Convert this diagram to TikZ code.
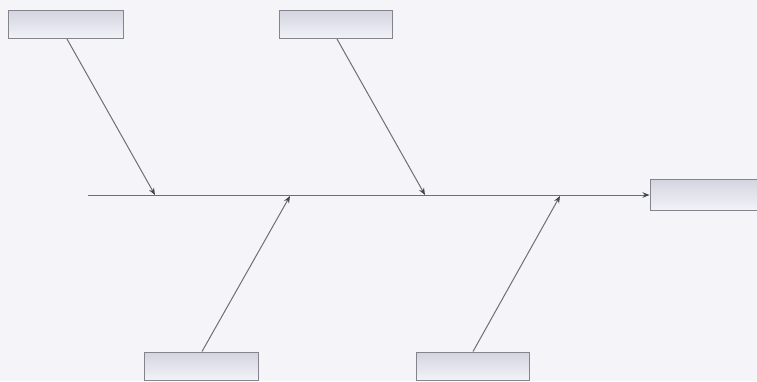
\documentclass[tikz,border=0pt]{standalone}
\usetikzlibrary{arrows.meta}
\definecolor{bg}{HTML}{F5F5F9}
\definecolor{ln}{HTML}{6E6E76}
\definecolor{tip}{HTML}{45454C}
\definecolor{bx}{HTML}{84848C}
\definecolor{boxtop}{HTML}{D4D4E0}
\definecolor{boxbot}{HTML}{F2F2F8}
\tikzset{
  fishbox/.style={draw=bx, line width=1pt, top color=boxtop, bottom color=boxbot,
    minimum height=28pt, inner sep=0pt, anchor=center},
  bone/.style={draw=ln, line width=1pt, -{Stealth[length=7pt,width=5.5pt,color=tip]}},
}
\begin{document}
\begin{tikzpicture}[x=1pt,y=-1pt]
\useasboundingbox (0,0) rectangle (757,381);
\fill[bg] (0,0) rectangle (757,381);
\clip (0,0) rectangle (757,381);
\node[fishbox, minimum width=115pt] (t1) at (65.5,24.5) {};
\node[fishbox, minimum width=113pt] (t2) at (335.5,24.5) {};
\node[fishbox, minimum width=116pt, minimum height=31pt] (head) at (708,194.5) {};
\node[fishbox, minimum width=114pt] (b1) at (201,366) {};
\node[fishbox, minimum width=113pt] (b2) at (472.5,366) {};
\coordinate (tail) at (88,195);
\coordinate (c1) at (155,195);
\coordinate (c2) at (425,195);
\coordinate (c3) at (290,196);
\coordinate (c4) at (560,196);
\draw[bone] (tail) -- (head.west |- tail);
\draw[bone] (t1.south) ++(1.5,0) -- (c1);
\draw[bone] (t2.south) ++(1.5,0) -- (c2);
\draw[bone] (b1.north) ++(1,0) -- (c3);
\draw[bone] (b2.north) ++(0.5,0) -- (c4);
\end{tikzpicture}
\end{document}
